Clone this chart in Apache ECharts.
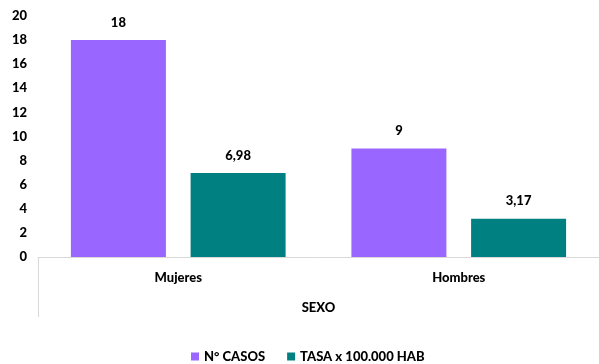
<!DOCTYPE html>
<html>
<head>
<meta charset="utf-8">
<script src="https://cdn.jsdelivr.net/npm/echarts@6/dist/echarts.min.js"></script>
<style>
  html, body { margin: 0; padding: 0; background: #fff; }
  #chart { width: 599px; height: 364px; }
</style>
</head>
<body>
<div id="chart"></div>
<script>
// Cases and rate per 100,000 inhabitants, by sex
const categories = ['Mujeres', 'Hombres'];
const groupLabel = ['SEXO'];
const casos = [18, 9];
const tasa = [6.98, 3.17];
const seriesNames = ['N° CASOS', 'TASA x 100.000 HAB'];

const FONT = 'Lato, "Open Sans", sans-serif';
const WEIGHT = 900;
const fmt = v => String(v).replace('.', ',');

const chart = echarts.init(document.getElementById('chart'));
chart.setOption({
  animation: false,
  textStyle: { fontFamily: FONT },
  grid: { left: 38, right: -3, top: 16, bottom: 107, containLabel: false },
  legend: {
    left: 186, top: 345,
    icon: 'rect', itemWidth: 8, itemHeight: 8, itemGap: 22,
    textStyle: { fontFamily: FONT, fontWeight: WEIGHT, fontSize: 13, color: '#000' },
    data: seriesNames
  },
  xAxis: [
    {
      type: 'category', data: categories,
      axisLine: { lineStyle: { color: '#d9d9d9', width: 1 } },
      axisTick: { show: false },
      axisLabel: { margin: 14, fontFamily: FONT, fontWeight: WEIGHT, fontSize: 13, color: '#000' }
    },
    {
      type: 'category', data: groupLabel, position: 'bottom',
      axisLine: { show: false },
      axisTick: { show: true, length: 60, lineStyle: { color: '#d9d9d9' } },
      axisLabel: { margin: 44, fontFamily: FONT, fontWeight: WEIGHT, fontSize: 13, color: '#000' }
    }
  ],
  yAxis: {
    type: 'value', min: 0, max: 20, interval: 2,
    axisLine: { show: false }, axisTick: { show: false },
    splitLine: { show: false },
    axisLabel: { margin: 11, fontFamily: FONT, fontWeight: WEIGHT, fontSize: 13, color: '#000' }
  },
  series: [
    {
      name: seriesNames[0], type: 'bar', data: casos,
      barWidth: 95, barGap: '26%',
      itemStyle: { color: '#9966ff' },
      label: { show: true, position: 'top', distance: 11, fontFamily: FONT, fontWeight: WEIGHT, fontSize: 13, color: '#000', formatter: p => fmt(p.value) }
    },
    {
      name: seriesNames[1], type: 'bar', data: tasa,
      barWidth: 95, barGap: '26%',
      itemStyle: { color: '#008080' },
      label: { show: true, position: 'top', distance: 11, fontFamily: FONT, fontWeight: WEIGHT, fontSize: 13, color: '#000', formatter: p => fmt(p.value) }
    }
  ]
});
</script>
</body>
</html>
